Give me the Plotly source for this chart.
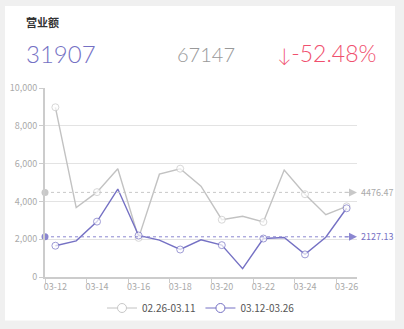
import plotly.graph_objects as go

# daily revenue, previous period vs current period
days = ["03-12", "03-13", "03-14", "03-15", "03-16", "03-17", "03-18", "03-19",
        "03-20", "03-21", "03-22", "03-23", "03-24", "03-25", "03-26"]
prev_name = "02.26-03.11"
curr_name = "03.12-03.26"
prev_vals = [8980, 3670, 4490, 5730, 2070, 5440, 5730, 4810,
             3030, 3210, 2910, 5660, 4380, 3300, 3737]
curr_vals = [1655, 1915, 2930, 4655, 2195, 1950, 1455, 1965,
             1685, 440, 2035, 2090, 1195, 2105, 3637]
y_ticks = [0, 2000, 4000, 6000, 8000, 10000]

PURPLE = "#7571c4"
GRAY = "#c2c2c2"
RED = "#f0506e"
FONT = "Noto Sans CJK SC, Noto Sans, sans-serif"
NUMFONT = "Lato, Noto Sans, sans-serif"

W, H = 404, 329
L, R, T, B = 45, 47, 88, 52
pw, ph = W - L - R, H - T - B


def px(x):
    return (x - L) / pw


def py(y):
    return (H - B - y) / ph


n = len(days)
xs = list(range(n))
prev_total = sum(prev_vals)
curr_total = sum(curr_vals)
prev_avg = prev_total / n
curr_avg = curr_total / n
change = (curr_total - prev_total) / prev_total * 100

fig = go.Figure()

# symbols shown on every other day
msize = [7 if i % 2 == 0 else 0 for i in xs]
mline = [1 if i % 2 == 0 else 0 for i in xs]

for name, vals, col, mcol in [(prev_name, prev_vals, GRAY, "#c8c8c8"),
                              (curr_name, curr_vals, PURPLE, PURPLE)]:
    fig.add_trace(go.Scatter(
        x=xs, y=vals, name=name, mode="lines+markers", showlegend=False,
        line=dict(color=col, width=1.4),
        marker=dict(size=msize, color="white", line=dict(color=mcol, width=mline)),
        cliponaxis=False, hoverinfo="skip"))
    # legend entry
    fig.add_trace(go.Scatter(
        x=[None], y=[None], name=name, mode="lines+markers",
        line=dict(color=col, width=1),
        marker=dict(size=9, color="white", line=dict(color=mcol, width=1))))

# average mark lines
for avg, col, txtcol in [(prev_avg, "#c8c8c8", "#aaaaaa"), (curr_avg, "#8a86d0", PURPLE)]:
    fig.add_shape(type="line", x0=-0.5, x1=14.5, y0=avg, y1=avg,
                  line=dict(color=col, width=1, dash="3px,3px"), layer="above")
    fig.add_trace(go.Scatter(x=[-0.5], y=[avg], mode="markers", showlegend=False,
                             marker=dict(size=7, color=col), cliponaxis=False,
                             hoverinfo="skip"))
    fig.add_annotation(x=14.5, y=avg, ax=-14, ay=0, text="", showarrow=True,
                       arrowhead=2, arrowsize=1.6, arrowwidth=1, arrowcolor=col)
    fig.add_annotation(x=14.5, y=avg, text=f"{avg:.2f}", showarrow=False,
                       xanchor="left", xshift=2, font=dict(size=9, color=txtcol, family=FONT))

# card background
fig.add_shape(type="rect", xref="paper", yref="paper", x0=px(5), x1=px(395),
              y0=py(320.5), y1=py(6), fillcolor="white", line=dict(width=0), layer="below")

# header
fig.add_annotation(xref="paper", yref="paper", x=px(24), y=py(22), text="<b>营业额</b>",
                   showarrow=False, xanchor="left", yanchor="middle",
                   font=dict(size=11, color="#333333", family=FONT))
fig.add_annotation(xref="paper", yref="paper", x=px(24), y=py(53), text=f"{curr_total}",
                   showarrow=False, xanchor="left", yanchor="middle",
                   font=dict(size=24, color=PURPLE, family=NUMFONT, weight=300))
fig.add_annotation(xref="paper", yref="paper", x=px(175), y=py(54), text=f"{prev_total}",
                   showarrow=False, xanchor="left", yanchor="middle",
                   font=dict(size=20, color="#999999", family=NUMFONT, weight=300))
fig.add_annotation(xref="paper", yref="paper", x=px(378), y=py(53),
                   text=f"<span style='font-size:19px'>↓</span>{change:.2f}%",
                   showarrow=False, xanchor="right", yanchor="middle",
                   font=dict(size=23, color=RED, family=NUMFONT, weight=300))

fig.update_layout(
    width=W, height=H, margin=dict(l=L, r=R, t=T, b=B, autoexpand=False),
    paper_bgcolor="#f0f0f0", plot_bgcolor="white",
    font=dict(family=FONT, color="#999999"),
    showlegend=True,
    legend=dict(orientation="h", x=0.5, xanchor="center", yref="container",
                y=(H - 308) / H, yanchor="middle",
                font=dict(size=10, color="#555555"), itemwidth=30, bgcolor="rgba(0,0,0,0)"),
    xaxis=dict(range=[-0.5, n - 0.5], tickvals=xs[::2], ticktext=days[::2],
               showgrid=False, zeroline=False, showline=True, linecolor="#cccccc",
               linewidth=2, ticks="", tickfont=dict(size=9, color="#aaaaaa"),
               minor=dict(tick0=-0.5, dtick=2, ticks="outside", ticklen=4,
                          tickcolor="#cccccc", showgrid=False)),
    yaxis=dict(range=[0, 10000], tickvals=y_ticks,
               ticktext=[f"{v:,}" for v in y_ticks], showgrid=True, gridcolor="#e3e3e3",
               zeroline=False, showline=True, linecolor="#cccccc", linewidth=2,
               ticks="outside", ticklen=4, tickcolor="#cccccc",
               tickfont=dict(size=9, color="#aaaaaa")),
)

fig.write_html("out.html")
